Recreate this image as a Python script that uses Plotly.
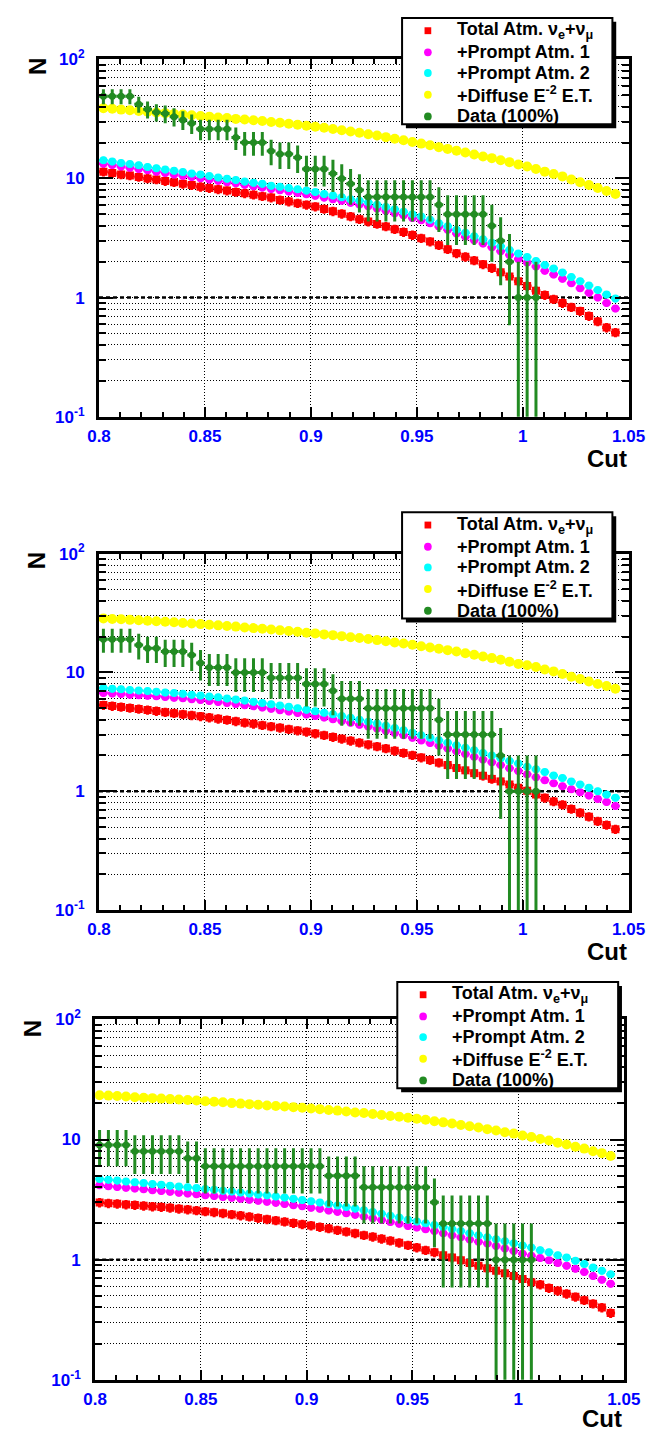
import numpy as np
import plotly.graph_objects as go

W, H = 660, 1441

# ---------------- data (bin centres of the "Cut" variable) ----------------
CUT = [0.80208, 0.80625, 0.81042, 0.81458, 0.81875, 0.82292, 0.82708, 0.83125, 0.83542, 0.83958,
       0.84375, 0.84792, 0.85208, 0.85625, 0.86042, 0.86458, 0.86875, 0.87292, 0.87708, 0.88125,
       0.88542, 0.88958, 0.89375, 0.89792, 0.90208, 0.90625, 0.91042, 0.91458, 0.91875, 0.92292,
       0.92708, 0.93125, 0.93542, 0.93958, 0.94375, 0.94792, 0.95208, 0.95625, 0.96042, 0.96458,
       0.96875, 0.97292, 0.97708, 0.98125, 0.98542, 0.98958, 0.99375, 0.99792, 1.00208, 1.00625,
       1.01042, 1.01458, 1.01875, 1.02292, 1.02708, 1.03125, 1.03542, 1.03958, 1.04375]
HALF_BIN = 0.00208

# panel 1
RED_1 = [11.4, 11.1, 10.8, 10.6, 10.3, 10.0, 9.8, 9.5, 9.3, 9.0,
         8.8, 8.5, 8.3, 8.1, 7.9, 7.7, 7.5, 7.3, 7.1, 6.9,
         6.6, 6.4, 6.2, 6.0, 5.8, 5.55, 5.3, 5.05, 4.8, 4.55,
         4.35, 4.15, 3.95, 3.75, 3.55, 3.35, 3.15, 2.95, 2.75, 2.55,
         2.35, 2.2, 2.05, 1.9, 1.77, 1.63, 1.5, 1.37, 1.25, 1.14,
         1.05, 0.97, 0.90, 0.83, 0.77, 0.70, 0.63, 0.56, 0.51]
MAG_1 = [13.3, 12.95, 12.6, 12.3, 12.0, 11.7, 11.4, 11.1, 10.8, 10.55,
         10.3, 10.05, 9.8, 9.55, 9.3, 9.1, 8.85, 8.6, 8.4, 8.15,
         7.95, 7.75, 7.55, 7.35, 7.15, 6.9, 6.7, 6.5, 6.25, 6.05,
         5.85, 5.6, 5.35, 5.1, 4.9, 4.65, 4.45, 4.2, 3.95, 3.7,
         3.45, 3.24, 3.03, 2.84, 2.64, 2.45, 2.28, 2.11, 1.97, 1.82,
         1.68, 1.56, 1.44, 1.32, 1.2, 1.1, 1.0, 0.9, 0.81]
CYAN_1 = [14.2, 13.9, 13.5, 13.2, 12.9, 12.5, 12.2, 11.9, 11.6, 11.3,
          11.0, 10.8, 10.5, 10.2, 9.95, 9.7, 9.4, 9.2, 9.0, 8.7,
          8.5, 8.3, 8.1, 7.9, 7.7, 7.4, 7.2, 6.95, 6.7, 6.5,
          6.3, 6.0, 5.75, 5.5, 5.25, 5.0, 4.8, 4.5, 4.2, 3.96,
          3.7, 3.5, 3.27, 3.08, 2.88, 2.69, 2.51, 2.34, 2.19, 2.03,
          1.88, 1.75, 1.62, 1.49, 1.37, 1.26, 1.16, 1.06, 0.98]
YEL_1 = [38.9, 38.4, 37.8, 37.3, 36.8, 36.3, 35.8, 35.3, 34.8, 34.4,
         33.9, 33.4, 33.0, 32.5, 32.1, 31.6, 31.2, 30.8, 30.3, 29.8,
         29.3, 28.8, 28.2, 27.7, 27.2, 26.6, 26.0, 25.4, 24.8, 24.2,
         23.5, 22.9, 22.2, 21.5, 20.9, 20.2, 19.6, 19.0, 18.3, 17.7,
         17.1, 16.5, 15.9, 15.3, 14.8, 14.2, 13.7, 13.1, 12.6, 12.0,
         11.4, 10.9, 10.4, 9.8, 9.3, 8.8, 8.3, 7.85, 7.4]
DATA_1 = [49, 49, 49, 49, 42, 38, 36, 35, 33, 31,
          29, 26, 26, 26, 26, 22, 20, 20, 20, 17,
          16, 16, 15, 12, 12, 12, 11, 10, 9, 8,
          7, 7, 7, 7, 7, 7, 7, 7, 6, 5,
          5, 5, 5, 5, 4, 3, 2, 1, 1, 1]

# panel 2
RED_2 = [5.31, 5.21, 5.12, 5.02, 4.93, 4.83, 4.73, 4.63, 4.54, 4.45,
         4.36, 4.27, 4.17, 4.07, 3.98, 3.88, 3.78, 3.69, 3.60, 3.51,
         3.42, 3.33, 3.24, 3.16, 3.06, 2.96, 2.86, 2.76, 2.66, 2.56,
         2.47, 2.38, 2.29, 2.19, 2.10, 2.01, 1.92, 1.83, 1.74, 1.66,
         1.57, 1.50, 1.42, 1.35, 1.27, 1.21, 1.14, 1.07, 1.01, 0.94,
         0.88, 0.82, 0.77, 0.71, 0.66, 0.61, 0.56, 0.52, 0.48]
MAG_2 = [6.72, 6.64, 6.57, 6.50, 6.43, 6.36, 6.29, 6.21, 6.13, 6.05,
         5.96, 5.87, 5.76, 5.65, 5.53, 5.42, 5.30, 5.18, 5.06, 4.94,
         4.81, 4.69, 4.56, 4.43, 4.30, 4.17, 4.04, 3.91, 3.77, 3.63,
         3.50, 3.37, 3.23, 3.09, 2.96, 2.82, 2.68, 2.55, 2.42, 2.29,
         2.17, 2.06, 1.95, 1.85, 1.75, 1.66, 1.56, 1.48, 1.39, 1.31,
         1.24, 1.17, 1.10, 1.04, 0.98, 0.92, 0.86, 0.81, 0.75]
CYAN_2 = [7.38, 7.29, 7.21, 7.13, 7.05, 6.97, 6.89, 6.79, 6.70, 6.61,
          6.50, 6.40, 6.28, 6.17, 6.04, 5.92, 5.79, 5.66, 5.53, 5.41,
          5.27, 5.14, 5.00, 4.86, 4.72, 4.58, 4.44, 4.30, 4.15, 4.00,
          3.85, 3.71, 3.56, 3.40, 3.26, 3.11, 2.96, 2.82, 2.69, 2.56,
          2.44, 2.32, 2.21, 2.10, 2.00, 1.90, 1.80, 1.71, 1.61, 1.53,
          1.45, 1.36, 1.29, 1.21, 1.14, 1.07, 1.00, 0.94, 0.88]
YEL_2 = [28.5, 28.2, 28.0, 27.7, 27.5, 27.2, 27.0, 26.7, 26.4, 26.1,
         25.8, 25.5, 25.2, 24.9, 24.6, 24.3, 23.9, 23.6, 23.3, 23.0,
         22.6, 22.3, 22.0, 21.6, 21.3, 20.9, 20.6, 20.2, 19.8, 19.5,
         19.1, 18.7, 18.3, 17.9, 17.5, 17.1, 16.6, 16.2, 15.8, 15.4,
         15.0, 14.5, 14.1, 13.6, 13.2, 12.8, 12.3, 11.8, 11.5, 11.1,
         10.6, 10.2, 9.7, 9.2, 8.8, 8.4, 8.0, 7.7, 7.3]
DATA_2 = [19, 19, 19, 19, 17, 16, 16, 15, 15, 15,
          14, 12, 11, 11, 11, 10, 10, 10, 10, 9,
          9, 9, 9, 8, 8, 8, 7, 6, 6, 6,
          5, 5, 5, 5, 5, 5, 5, 5, 4, 3,
          3, 3, 3, 3, 3, 2, 1, 1, 1, 1]

# panel 3
RED_3 = [2.99, 2.95, 2.92, 2.88, 2.85, 2.81, 2.77, 2.74, 2.70, 2.65,
         2.61, 2.57, 2.52, 2.48, 2.43, 2.38, 2.33, 2.28, 2.22, 2.17,
         2.12, 2.07, 2.02, 1.97, 1.92, 1.87, 1.82, 1.76, 1.71, 1.66,
         1.60, 1.55, 1.49, 1.44, 1.38, 1.32, 1.26, 1.20, 1.15, 1.09,
         1.04, 0.99, 0.94, 0.89, 0.85, 0.81, 0.77, 0.73, 0.69, 0.65,
         0.62, 0.58, 0.55, 0.52, 0.49, 0.46, 0.43, 0.40, 0.36]
MAG_3 = [4.16, 4.09, 4.03, 3.97, 3.91, 3.85, 3.79, 3.73, 3.67, 3.61,
         3.56, 3.50, 3.44, 3.38, 3.33, 3.27, 3.21, 3.15, 3.09, 3.03,
         2.97, 2.91, 2.84, 2.78, 2.71, 2.65, 2.57, 2.50, 2.43, 2.36,
         2.29, 2.21, 2.14, 2.06, 1.99, 1.91, 1.85, 1.79, 1.73, 1.66,
         1.60, 1.54, 1.47, 1.41, 1.36, 1.30, 1.24, 1.18, 1.12, 1.08,
         1.03, 0.99, 0.94, 0.89, 0.84, 0.79, 0.73, 0.68, 0.63]
CYAN_3 = [4.70, 4.62, 4.55, 4.48, 4.41, 4.34, 4.27, 4.20, 4.13, 4.06,
          4.00, 3.94, 3.87, 3.81, 3.75, 3.69, 3.62, 3.56, 3.49, 3.43,
          3.36, 3.29, 3.21, 3.14, 3.06, 2.99, 2.90, 2.82, 2.74, 2.66,
          2.58, 2.49, 2.41, 2.32, 2.24, 2.15, 2.08, 2.01, 1.94, 1.87,
          1.80, 1.73, 1.66, 1.60, 1.54, 1.48, 1.42, 1.37, 1.31, 1.26,
          1.20, 1.15, 1.09, 1.04, 0.98, 0.92, 0.86, 0.81, 0.755]
YEL_3 = [23.4, 23.2, 23.0, 22.8, 22.5, 22.3, 22.1, 21.9, 21.7, 21.5,
         21.3, 21.1, 20.8, 20.6, 20.4, 20.1, 19.9, 19.7, 19.5, 19.2,
         19.0, 18.8, 18.6, 18.4, 18.1, 17.9, 17.6, 17.4, 17.1, 16.8,
         16.6, 16.3, 16.0, 15.7, 15.5, 15.2, 14.9, 14.6, 14.2, 13.9,
         13.6, 13.2, 12.9, 12.6, 12.2, 11.9, 11.5, 11.2, 10.8, 10.5,
         10.1, 9.8, 9.4, 9.1, 8.7, 8.4, 8.0, 7.7, 7.3]
DATA_3 = [9, 9, 9, 9, 8, 8, 8, 8, 8, 8,
          7, 7, 6, 6, 6, 6, 6, 6, 6, 6,
          6, 6, 6, 6, 6, 6, 5, 5, 5, 5,
          4, 4, 4, 4, 4, 4, 4, 4, 3, 2,
          2, 2, 2, 2, 2, 1, 1, 1, 1, 1]

# ---------------- labels / ticks ----------------
SERIES_LABELS = ["Total Atm. \u03bd<sub>e</sub>+\u03bd<sub>\u03bc</sub>",
                 "+Prompt Atm. 1", "+Prompt Atm. 2",
                 "+Diffuse E<sup>-2</sup> E.T.", "Data (100%)"]
SERIES_COLORS = ["#ff0000", "#ff00ff", "#00ffff", "#ffff00", "#228b22"]
X_TICKS = [0.8, 0.85, 0.9, 0.95, 1.0, 1.05]
X_TICK_TEXT = ["0.8", "0.85", "0.9", "0.95", "1", "1.05"]
Y_TICKS = [0.1, 1, 10, 100]
Y_TICK_TEXT = ["10<sup>-1</sup>", "1", "10", "10<sup>2</sup>"]
Y_MINOR = [0.2, 0.3, 0.4, 0.5, 0.6, 0.7, 0.8, 0.9,
           2, 3, 4, 5, 6, 7, 8, 9,
           20, 30, 40, 50, 60, 70, 80, 90]
REF_LEVEL = 1.0
X_TITLE = "Cut"
Y_TITLE = "N"

FONT = "Liberation Sans, Arial, Helvetica, sans-serif"
BLUE = "#0000ff"


def px(x):
    return x / W


def py(y):
    return 1 - y / H


PANELS = [
    dict(series=[RED_1, MAG_1, CYAN_1, YEL_1], data=DATA_1,
         xdom=(91, 645), ydom=(48, 411), legend=(408, 6, 628, 114),
         ntitle=(26, 55), cut=(645, 453)),
    dict(series=[RED_2, MAG_2, CYAN_2, YEL_2], data=DATA_2,
         xdom=(91, 645), ydom=(550, 912), legend=(408, 508, 628, 616),
         ntitle=(26, 557), cut=(645, 954)),
    dict(series=[RED_3, MAG_3, CYAN_3, YEL_3], data=DATA_3,
         xdom=(87, 640), ydom=(1023, 1389), legend=(403, 985, 634, 1093),
         ntitle=(21, 1033), cut=(640, 1428)),
]

fig = go.Figure()

for i, p in enumerate(PANELS, start=1):
    sfx = "" if i == 1 else str(i)
    xa, ya = "x" + sfx, "y" + sfx
    red, mag, cyan, yel = p["series"]

    # model curves
    styles = [
        dict(symbol="square", size=8, ey=9, th=3),
        dict(symbol="circle", size=8, ey=7, th=2.5),
        dict(symbol="circle", size=8, ey=7, th=2.5),
        dict(symbol="circle", size=10, ey=3, th=2),
    ]
    for vals, name, col, st in zip([red, mag, cyan, yel], SERIES_LABELS[:4], SERIES_COLORS[:4], styles):
        fig.add_trace(go.Scatter(
            x=CUT[:len(vals)], y=vals, mode="markers", name=name, xaxis=xa, yaxis=ya,
            showlegend=False,
            marker=dict(symbol=st["symbol"], size=st["size"], color=col, line=dict(width=0)),
            error_x=dict(type="constant", value=HALF_BIN, color=col, thickness=st["th"], width=0),
            error_y=dict(type="percent", value=st["ey"], color=col, thickness=st["th"], width=0),
        ))

    # data with Poisson errors
    d = np.array(p["data"], dtype=float)
    fig.add_trace(go.Scatter(
        x=CUT[:len(d)], y=d, mode="markers", name=SERIES_LABELS[4], xaxis=xa, yaxis=ya,
        showlegend=False,
        marker=dict(symbol="circle", size=7, color=SERIES_COLORS[4], line=dict(width=0)),
        error_x=dict(type="constant", value=HALF_BIN, color=SERIES_COLORS[4], thickness=3, width=0),
        error_y=dict(type="data", array=np.sqrt(d), color=SERIES_COLORS[4], thickness=3, width=0),
    ))

    x0, x1 = p["xdom"]
    y0, y1 = p["ydom"]
    fig.update_layout(**{
        "xaxis" + sfx: dict(
            domain=[px(x0), px(x1)], anchor=ya, range=[0.8, 1.05],
            tickmode="array", tickvals=X_TICKS, ticktext=X_TICK_TEXT,
            ticks="inside", ticklen=10, tickwidth=2, tickcolor="black",
            minor=dict(dtick=0.01, tick0=0.8, ticks="inside", ticklen=5, tickwidth=2,
                       tickcolor="black", showgrid=False),
            showline=True, linewidth=3, linecolor="black", mirror="allticks",
            showgrid=True, gridcolor="black", gridwidth=1, griddash="1px,2px",
            zeroline=False, ticklabelstandoff=2,
            tickfont=dict(family=FONT, size=17, color=BLUE, weight="bold"),
        ),
        "yaxis" + sfx: dict(
            domain=[py(y1), py(y0)], anchor=xa, type="log", range=[-1, 2],
            tickmode="array", tickvals=Y_TICKS, ticktext=Y_TICK_TEXT,
            ticks="inside", ticklen=14, tickwidth=2, tickcolor="black",
            minor=dict(tickmode="array", tickvals=Y_MINOR, ticks="inside", ticklen=7,
                       tickwidth=2, tickcolor="black", showgrid=True, gridcolor="black",
                       gridwidth=1, griddash="1px,2px"),
            showline=True, linewidth=3, linecolor="black", mirror="allticks",
            showgrid=True, gridcolor="black", gridwidth=1, griddash="1px,2px",
            zeroline=False, ticklabelstandoff=8,
            tickfont=dict(family=FONT, size=17, color=BLUE, weight="bold"),
        ),
    })

    # reference line at N = 1
    fig.add_shape(type="line", xref=xa + " domain", yref=ya, x0=0, x1=1,
                  y0=REF_LEVEL, y1=REF_LEVEL, layer="below",
                  line=dict(color="black", width=2.5, dash="4px,3px"))

    # axis titles
    cx, cy = p["cut"]
    fig.add_annotation(x=px(cx), y=py(cy), xref="paper", yref="paper", text=X_TITLE,
                       showarrow=False, xanchor="right", yanchor="middle",
                       font=dict(family=FONT, size=24, color="black", weight="bold"))
    nx, ny = p["ntitle"]
    fig.add_annotation(x=px(nx), y=py(ny), xref="paper", yref="paper", text=Y_TITLE,
                       showarrow=False, xanchor="center", yanchor="middle", textangle=-90,
                       font=dict(family=FONT, size=24, color="black", weight="bold"))

    # legend box (ROOT style with shadow)
    L, T, R, B = p["legend"]
    fig.add_shape(type="rect", xref="paper", yref="paper", layer="above",
                  x0=px(L + 4), x1=px(R + 4), y0=py(B + 4), y1=py(T + 4),
                  fillcolor="black", line=dict(width=0))
    fig.add_shape(type="rect", xref="paper", yref="paper", layer="above",
                  x0=px(L), x1=px(R), y0=py(B), y1=py(T),
                  fillcolor="white", line=dict(color="black", width=2))
    row_off = [13, 35, 56, 78, 100]
    for k, (lab, col) in enumerate(zip(SERIES_LABELS, SERIES_COLORS)):
        ry = T + row_off[k]
        mx = L + 27
        if k == 0:
            fig.add_shape(type="rect", xref="paper", yref="paper", layer="above",
                          x0=px(mx - 3.5), x1=px(mx + 3.5), y0=py(ry + 3.5), y1=py(ry - 3.5),
                          fillcolor=col, line=dict(width=0))
        else:
            fig.add_shape(type="circle", xref="paper", yref="paper", layer="above",
                          x0=px(mx - 4), x1=px(mx + 4), y0=py(ry + 4), y1=py(ry - 4),
                          fillcolor=col, line=dict(width=0))
        fig.add_annotation(x=px(L + 55), y=py(ry), xref="paper", yref="paper", text=lab,
                           showarrow=False, xanchor="left", yanchor="middle",
                           font=dict(family=FONT, size=18, color="black", weight="bold"))

fig.update_layout(
    width=W, height=H, autosize=False,
    margin=dict(l=0, r=0, t=0, b=0),
    paper_bgcolor="white", plot_bgcolor="white",
    showlegend=False,
)

POST = ("var d=document.getElementById('{plot_id}');"
        "d.style.position='absolute';d.style.left='0px';d.style.top='0px';"
        "document.documentElement.style.margin='0';document.body.style.margin='0';"
        "document.documentElement.style.overflow='hidden';document.body.style.overflow='hidden';")

fig.write_html("out.html", config={"displayModeBar": False}, post_script=POST)
